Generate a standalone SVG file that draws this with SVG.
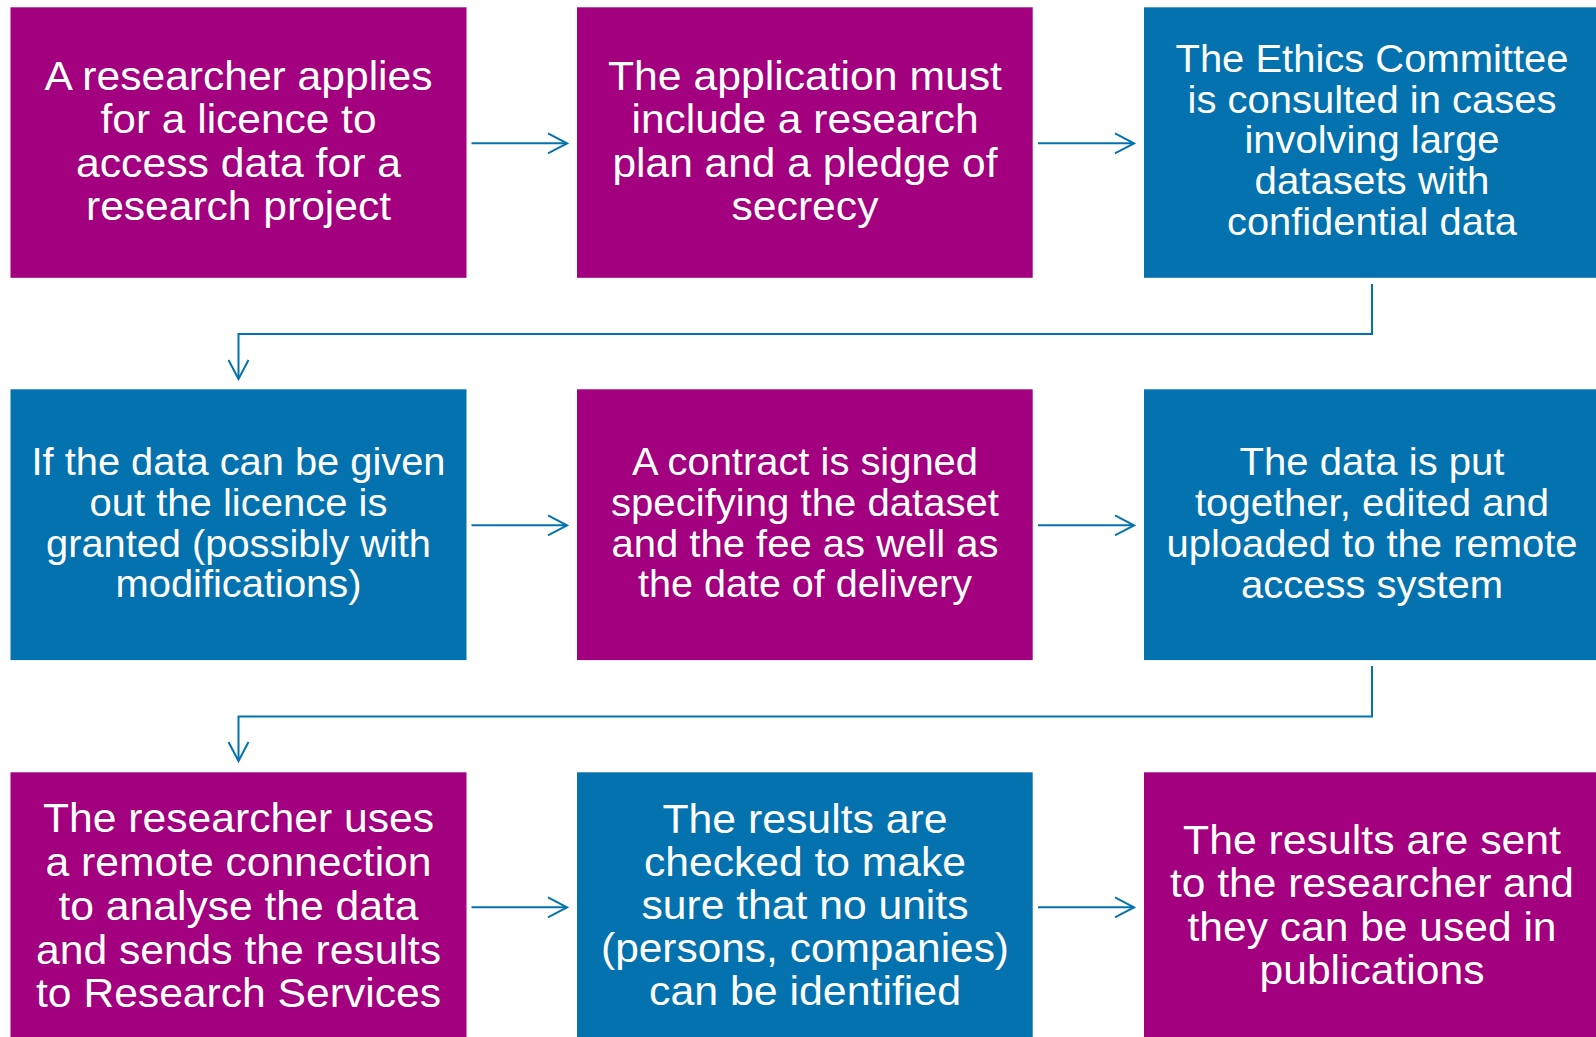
<svg xmlns="http://www.w3.org/2000/svg" width="1596" height="1037" viewBox="0 0 1596 1037">
<style>
.m{fill:#A2007E}
.b{fill:#0372AF}
text{font-family:"Liberation Sans",Arial,sans-serif;font-size:40px;fill:#fff;text-anchor:middle}
.s{font-size:38px}
.e{font-size:39px}
.c{fill:none;stroke:#0372AF;stroke-width:2}
</style>
<defs>
<marker id="ah" markerUnits="userSpaceOnUse" viewBox="0 0 22 22" refX="20" refY="11" markerWidth="22" markerHeight="22" orient="auto">
<path d="M1,1 L20,11 L1,21" fill="none" stroke="#0372AF" stroke-width="2"/>
</marker>
</defs>
<rect width="1596" height="1037" fill="#fff"/>
<g id="connectors">
<path class="c" d="M471.5,143.3 H567" marker-end="url(#ah)"/>
<path class="c" d="M1038,143.3 H1134" marker-end="url(#ah)"/>
<path class="c" d="M1372,284 V334 H238.5 V379" marker-end="url(#ah)"/>
<path class="c" d="M471.5,525.3 H567" marker-end="url(#ah)"/>
<path class="c" d="M1038,525.3 H1134" marker-end="url(#ah)"/>
<path class="c" d="M1372,666 V716.5 H238.5 V761" marker-end="url(#ah)"/>
<path class="c" d="M471.5,907.3 H567" marker-end="url(#ah)"/>
<path class="c" d="M1038,907.3 H1134" marker-end="url(#ah)"/>
</g>
<g id="n1">
<rect class="m" x="10.5" y="7.3" width="456" height="270.5"/>
<text x="238.5" y="90" textLength="388" lengthAdjust="spacingAndGlyphs">A researcher applies</text>
<text x="238.5" y="133.3" textLength="276" lengthAdjust="spacingAndGlyphs">for a licence to</text>
<text x="238.5" y="176.7" textLength="325" lengthAdjust="spacingAndGlyphs">access data for a</text>
<text x="238.5" y="220" textLength="305" lengthAdjust="spacingAndGlyphs">research project</text>
</g>
<g id="n2">
<rect class="m" x="577" y="7.3" width="455.7" height="270.5"/>
<text x="805" y="90" textLength="394" lengthAdjust="spacingAndGlyphs">The application must</text>
<text x="805" y="133.3" textLength="347" lengthAdjust="spacingAndGlyphs">include a research</text>
<text x="805" y="176.7" textLength="385" lengthAdjust="spacingAndGlyphs">plan and a pledge of</text>
<text x="805" y="220" textLength="147" lengthAdjust="spacingAndGlyphs">secrecy</text>
</g>
<g id="n3">
<rect class="b" x="1144" y="7.3" width="460" height="270.5"/>
<text class="e" x="1372" y="71.7" textLength="393" lengthAdjust="spacingAndGlyphs">The Ethics Committee</text>
<text class="e" x="1372" y="112.5" textLength="369" lengthAdjust="spacingAndGlyphs">is consulted in cases</text>
<text class="e" x="1372" y="153.3" textLength="255" lengthAdjust="spacingAndGlyphs">involving large</text>
<text class="e" x="1372" y="194.1" textLength="235" lengthAdjust="spacingAndGlyphs">datasets with</text>
<text class="e" x="1372" y="234.9" textLength="290" lengthAdjust="spacingAndGlyphs">confidential data</text>
</g>
<g id="n4">
<rect class="b" x="10.5" y="389.3" width="456" height="270.8"/>
<text class="s" x="238.5" y="475" textLength="414" lengthAdjust="spacingAndGlyphs">If the data can be given</text>
<text class="s" x="238.5" y="516.3" textLength="298" lengthAdjust="spacingAndGlyphs">out the licence is</text>
<text class="s" x="238.5" y="556.7" textLength="385" lengthAdjust="spacingAndGlyphs">granted (possibly with</text>
<text class="s" x="238.5" y="597" textLength="246" lengthAdjust="spacingAndGlyphs">modifications)</text>
</g>
<g id="n5">
<rect class="m" x="577" y="389.3" width="455.7" height="270.8"/>
<text class="s" x="805" y="475" textLength="346" lengthAdjust="spacingAndGlyphs">A contract is signed</text>
<text class="s" x="805" y="516.3" textLength="388" lengthAdjust="spacingAndGlyphs">specifying the dataset</text>
<text class="s" x="805" y="556.7" textLength="387" lengthAdjust="spacingAndGlyphs">and the fee as well as</text>
<text class="s" x="805" y="597" textLength="334" lengthAdjust="spacingAndGlyphs">the date of delivery</text>
</g>
<g id="n6">
<rect class="b" x="1144" y="389.3" width="460" height="270.8"/>
<text class="s" x="1372" y="475" textLength="265" lengthAdjust="spacingAndGlyphs">The data is put</text>
<text class="s" x="1372" y="516.3" textLength="354" lengthAdjust="spacingAndGlyphs">together, edited and</text>
<text class="s" x="1372" y="556.7" textLength="411" lengthAdjust="spacingAndGlyphs">uploaded to the remote</text>
<text class="s" x="1372" y="597.5" textLength="262" lengthAdjust="spacingAndGlyphs">access system</text>
</g>
<g id="n7">
<rect class="m" x="10.5" y="772.3" width="456" height="270"/>
<text x="238.5" y="832" textLength="391" lengthAdjust="spacingAndGlyphs">The researcher uses</text>
<text x="238.5" y="876" textLength="386" lengthAdjust="spacingAndGlyphs">a remote connection</text>
<text x="238.5" y="920" textLength="360" lengthAdjust="spacingAndGlyphs">to analyse the data</text>
<text x="238.5" y="963.5" textLength="405" lengthAdjust="spacingAndGlyphs">and sends the results</text>
<text x="238.5" y="1007" textLength="405" lengthAdjust="spacingAndGlyphs">to Research Services</text>
</g>
<g id="n8">
<rect class="b" x="577" y="772.3" width="455.7" height="270"/>
<text x="805" y="832.7" textLength="285" lengthAdjust="spacingAndGlyphs">The results are</text>
<text x="805" y="875.5" textLength="322" lengthAdjust="spacingAndGlyphs">checked to make</text>
<text x="805" y="918.5" textLength="327" lengthAdjust="spacingAndGlyphs">sure that no units</text>
<text x="805" y="961.7" textLength="408" lengthAdjust="spacingAndGlyphs">(persons, companies)</text>
<text x="805" y="1005" textLength="312" lengthAdjust="spacingAndGlyphs">can be identified</text>
</g>
<g id="n9">
<rect class="m" x="1144" y="772.3" width="460" height="270"/>
<text x="1372" y="854" textLength="378" lengthAdjust="spacingAndGlyphs">The results are sent</text>
<text x="1372" y="897.3" textLength="404" lengthAdjust="spacingAndGlyphs">to the researcher and</text>
<text x="1372" y="940.7" textLength="369" lengthAdjust="spacingAndGlyphs">they can be used in</text>
<text x="1372" y="984" textLength="225" lengthAdjust="spacingAndGlyphs">publications</text>
</g>
</svg>
